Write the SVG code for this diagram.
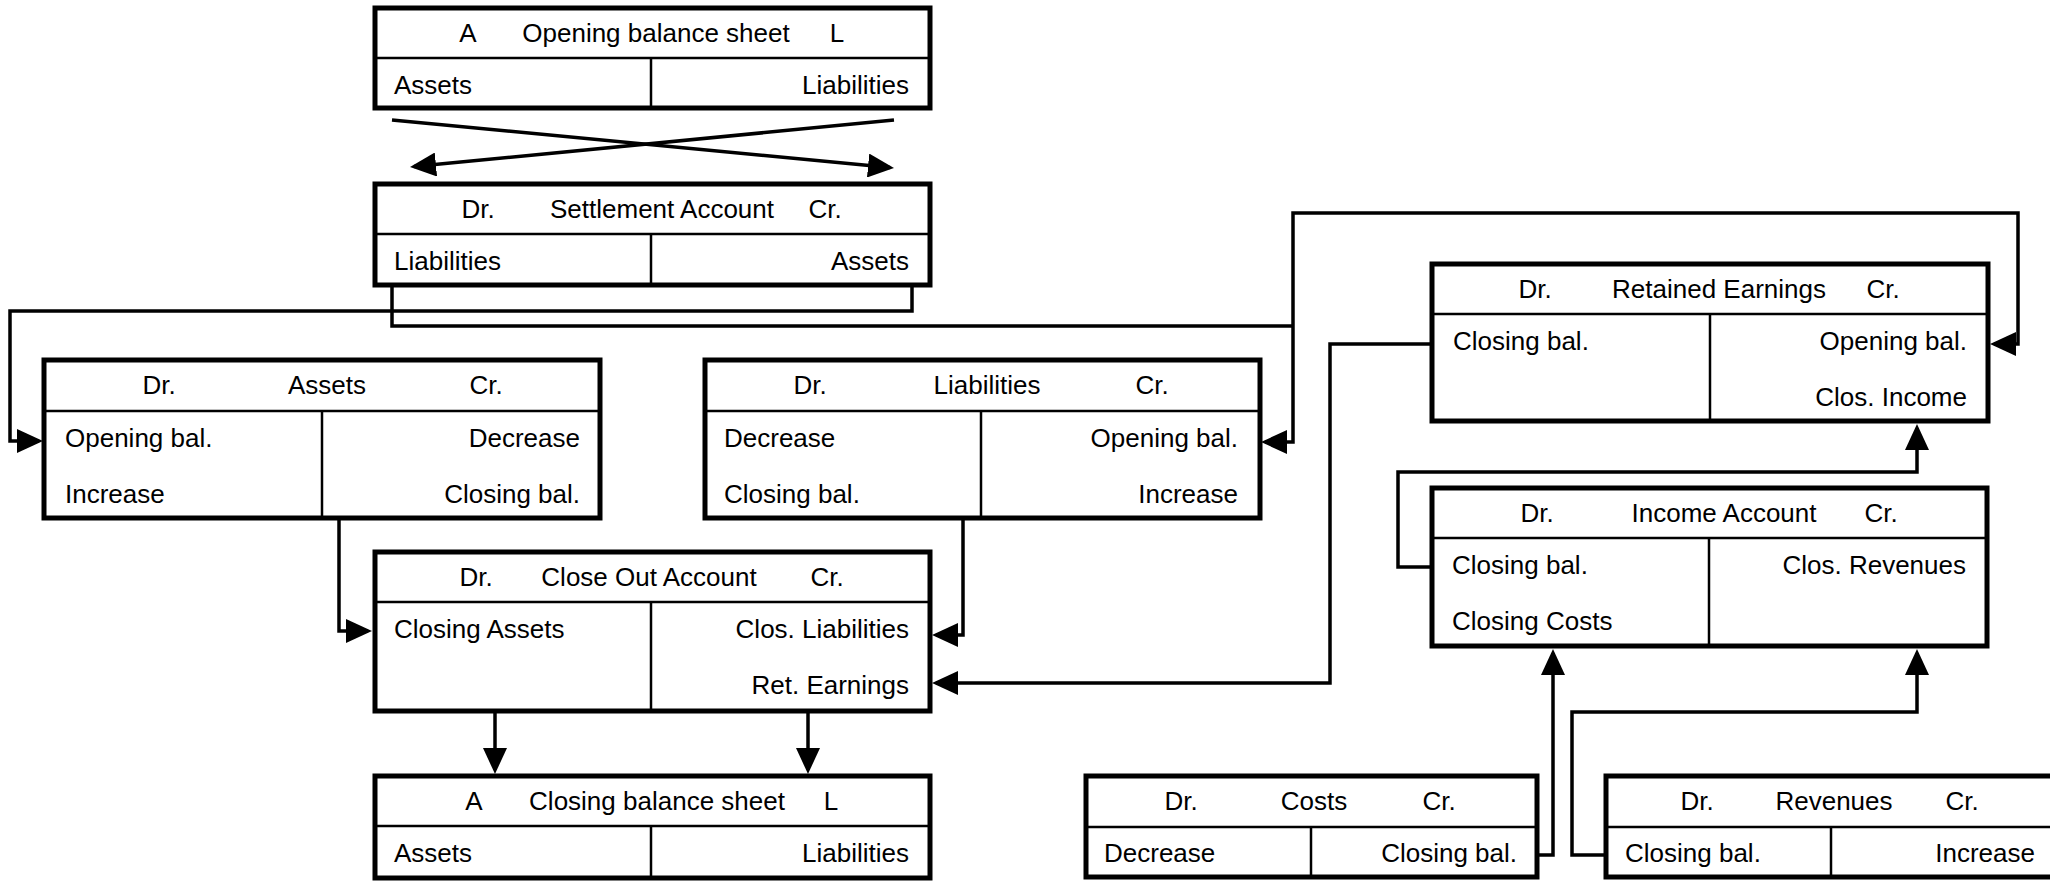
<svg xmlns="http://www.w3.org/2000/svg" width="2050" height="881" viewBox="0 0 2050 881">
<style>
.box{fill:#fff;stroke:#000;stroke-width:5}
.ln{stroke:#000;stroke-width:2.5;fill:none}
text{font-family:"Liberation Sans",Arial,sans-serif;font-size:26px;fill:#000}
.m{text-anchor:middle}
.e{text-anchor:end}
.c{fill:none;stroke:#000;stroke-width:3.5;stroke-linejoin:miter}
.a{marker-end:url(#ah)}
</style>
<defs>
<marker id="ah" markerUnits="userSpaceOnUse" markerWidth="26" markerHeight="24" refX="22" refY="12" orient="auto" viewBox="0 0 26 24"><path d="M0,0 L26,12 L0,24 Z" fill="#000"/></marker>
</defs>

<g id="connectors">
<path class="c a" d="M392,120 L890,167.6"/>
<path class="c a" d="M894,120 L414,166.6"/>
<path class="c a" d="M912,285 V311 H10 V441 H39"/>
<path class="c" d="M392,285 V326 H1293"/>
<path class="c a" d="M1293,326 V442 H1265"/>
<path class="c a" d="M1293,326 V213 H2018 V344 H1994"/>
<path class="c a" d="M339,518 V631 H368"/>
<path class="c a" d="M963,518 V635 H936"/>
<path class="c a" d="M1432,344 H1330 V683 H936"/>
<path class="c a" d="M495,711 V770"/>
<path class="c a" d="M808,711 V770"/>
<path class="c a" d="M1432,567 H1398 V472 H1917 V428"/>
<path class="c a" d="M1537,855 H1553 V653"/>
<path class="c a" d="M1606,855 H1572 V712 H1917 V653"/>
</g>

<g id="opening-balance-sheet">
<rect class="box" x="375" y="8" width="555" height="100"/>
<line class="ln" x1="375" y1="58" x2="930" y2="58"/>
<line class="ln" x1="651" y1="58" x2="651" y2="108"/>
<text class="m" x="468" y="42">A</text>
<text class="m" x="656" y="42">Opening balance sheet</text>
<text class="m" x="837" y="42">L</text>
<text x="394" y="94">Assets</text>
<text class="e" x="909" y="94">Liabilities</text>
</g>

<g id="settlement-account">
<rect class="box" x="375" y="184" width="555" height="101"/>
<line class="ln" x1="375" y1="234" x2="930" y2="234"/>
<line class="ln" x1="651" y1="234" x2="651" y2="285"/>
<text class="m" x="478" y="218">Dr.</text>
<text class="m" x="662" y="218">Settlement Account</text>
<text class="m" x="825" y="218">Cr.</text>
<text x="394" y="270">Liabilities</text>
<text class="e" x="909" y="270">Assets</text>
</g>

<g id="assets">
<rect class="box" x="44" y="360" width="556" height="158"/>
<line class="ln" x1="44" y1="411" x2="600" y2="411"/>
<line class="ln" x1="322" y1="411" x2="322" y2="518"/>
<text class="m" x="159" y="394">Dr.</text>
<text class="m" x="327" y="394">Assets</text>
<text class="m" x="486" y="394">Cr.</text>
<text x="65" y="447">Opening bal.</text>
<text x="65" y="503">Increase</text>
<text class="e" x="580" y="447">Decrease</text>
<text class="e" x="580" y="503">Closing bal.</text>
</g>

<g id="liabilities">
<rect class="box" x="705" y="360" width="555" height="158"/>
<line class="ln" x1="705" y1="411" x2="1260" y2="411"/>
<line class="ln" x1="981" y1="411" x2="981" y2="518"/>
<text class="m" x="810" y="394">Dr.</text>
<text class="m" x="987" y="394">Liabilities</text>
<text class="m" x="1152" y="394">Cr.</text>
<text x="724" y="447">Decrease</text>
<text x="724" y="503">Closing bal.</text>
<text class="e" x="1238" y="447">Opening bal.</text>
<text class="e" x="1238" y="503">Increase</text>
</g>

<g id="close-out-account">
<rect class="box" x="375" y="552" width="555" height="159"/>
<line class="ln" x1="375" y1="602" x2="930" y2="602"/>
<line class="ln" x1="651" y1="602" x2="651" y2="711"/>
<text class="m" x="476" y="586">Dr.</text>
<text class="m" x="649" y="586">Close Out Account</text>
<text class="m" x="827" y="586">Cr.</text>
<text x="394" y="638">Closing Assets</text>
<text class="e" x="909" y="638">Clos. Liabilities</text>
<text class="e" x="909" y="694">Ret. Earnings</text>
</g>

<g id="closing-balance-sheet">
<rect class="box" x="375" y="776" width="555" height="102"/>
<line class="ln" x1="375" y1="826" x2="930" y2="826"/>
<line class="ln" x1="651" y1="826" x2="651" y2="878"/>
<text class="m" x="474" y="810">A</text>
<text class="m" x="657" y="810">Closing balance sheet</text>
<text class="m" x="831" y="810">L</text>
<text x="394" y="862">Assets</text>
<text class="e" x="909" y="862">Liabilities</text>
</g>

<g id="retained-earnings">
<rect class="box" x="1432" y="264" width="556" height="157"/>
<line class="ln" x1="1432" y1="314" x2="1988" y2="314"/>
<line class="ln" x1="1710" y1="314" x2="1710" y2="421"/>
<text class="m" x="1535" y="298">Dr.</text>
<text class="m" x="1719" y="298">Retained Earnings</text>
<text class="m" x="1883" y="298">Cr.</text>
<text x="1453" y="350">Closing bal.</text>
<text class="e" x="1967" y="350">Opening bal.</text>
<text class="e" x="1967" y="406">Clos. Income</text>
</g>

<g id="income-account">
<rect class="box" x="1432" y="488" width="555" height="158"/>
<line class="ln" x1="1432" y1="538" x2="1987" y2="538"/>
<line class="ln" x1="1709" y1="538" x2="1709" y2="646"/>
<text class="m" x="1537" y="522">Dr.</text>
<text class="m" x="1724" y="522">Income Account</text>
<text class="m" x="1881" y="522">Cr.</text>
<text x="1452" y="574">Closing bal.</text>
<text x="1452" y="630">Closing Costs</text>
<text class="e" x="1966" y="574">Clos. Revenues</text>
</g>

<g id="costs">
<rect class="box" x="1086" y="776" width="451" height="101"/>
<line class="ln" x1="1086" y1="827" x2="1537" y2="827"/>
<line class="ln" x1="1311" y1="827" x2="1311" y2="877"/>
<text class="m" x="1181" y="810">Dr.</text>
<text class="m" x="1314" y="810">Costs</text>
<text class="m" x="1439" y="810">Cr.</text>
<text x="1104" y="862">Decrease</text>
<text class="e" x="1517" y="862">Closing bal.</text>
</g>

<g id="revenues">
<rect class="box" x="1606" y="776" width="451" height="101"/>
<line class="ln" x1="1606" y1="827" x2="2057" y2="827"/>
<line class="ln" x1="1831" y1="827" x2="1831" y2="877"/>
<text class="m" x="1697" y="810">Dr.</text>
<text class="m" x="1834" y="810">Revenues</text>
<text class="m" x="1962" y="810">Cr.</text>
<text x="1625" y="862">Closing bal.</text>
<text class="e" x="2035" y="862">Increase</text>
</g>
</svg>
